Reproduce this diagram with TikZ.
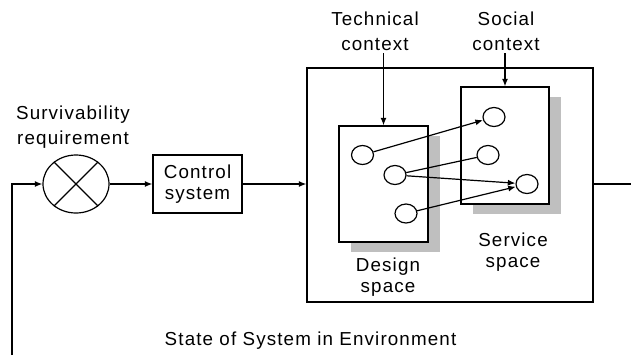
\documentclass[tikz,border=0pt]{standalone}
\usepackage{fontspec}
\setmainfont{Liberation Sans}[LetterSpace=6]
\usetikzlibrary{shapes.geometric,arrows.meta,shadows}

\begin{document}
\begin{tikzpicture}[x=0.5pt,y=-0.5pt,line width=0.6pt,
  >={Latex[length=3.8pt,width=3pt]},
  lbl/.style={align=center,inner sep=1pt,font=\fontsize{9.4}{12.5}\selectfont},
  inlbl/.style={align=center,inner sep=1pt,font=\fontsize{9.4}{10.5}\selectfont},
  blk/.style={draw,rectangle,fill=white,inner sep=0pt},
  space/.style={blk,drop shadow={shadow xshift=6pt,shadow yshift=-5pt,fill=black!25,opacity=1}},
  item/.style={draw,ellipse,fill=white,minimum width=11pt,minimum height=9.5pt,inner sep=0pt}]
  \useasboundingbox (0,0) rectangle (631,355);

  % Comparator and controller
  \node[draw,ellipse,minimum width=33pt,minimum height=29pt,inner sep=0pt] (cmp) at (76,184) {};
  \draw (cmp.45) -- (cmp.225);
  \draw (cmp.135) -- (cmp.315);
  \node[lbl] (surv) at (73,127.5) {Survivability\\requirement};
  \node[blk,inlbl,minimum width=44.5pt,minimum height=29pt] (ctrl) at (197.5,184) {Control\\system};

  % System in its environment
  \node[blk,minimum width=143pt,minimum height=117pt] (sys) at (450,185) {};
  \node[space,minimum width=44.5pt,minimum height=58pt] (design) at (383.5,184) {};
  \node[space,minimum width=44pt,minimum height=58.5pt] (service) at (505,145.5) {};
  \node[inlbl] (designlbl) at (388,277.5) {Design\\space};
  \node[inlbl] (servicelbl) at (513,252.5) {Service\\space};

  % Contexts
  \node[lbl] (tech) at (375,31) {Technical\\context};
  \node[lbl] (soc) at (506,31) {Social\\context};
  \draw[->] (design.north |- tech.south) -- (design.north);
  \draw[->] (service.north |- soc.south) -- (service.north);

  % Mapping from design to service
  \node[item] (d1) at (362.5,155) {};
  \node[item] (d2) at (395,175) {};
  \node[item] (d3) at (406,213.5) {};
  \node[item] (s1) at (494,117) {};
  \node[item] (s2) at (488,155) {};
  \node[item] (s3) at (527,184) {};
  \draw[->] (d1) -- (s1);
  \draw (d2) -- (s2);
  \draw[->] (d2) -- (s3);
  \draw[->] (d3) -- (s3);

  % Loop
  \coordinate (fb) at (12,355);
  \coordinate (out) at (631,184);
  \draw[->] (fb) |- (cmp.west);
  \draw[->] (cmp.east) -- (ctrl.west);
  \draw[->] (ctrl.east) -- (ctrl.east -| sys.west);
  \draw (sys.east |- out) -- (out);
  \node[lbl,anchor=base] (state) at (310.5,345) {State of System in Environment};
\end{tikzpicture}
\end{document}
